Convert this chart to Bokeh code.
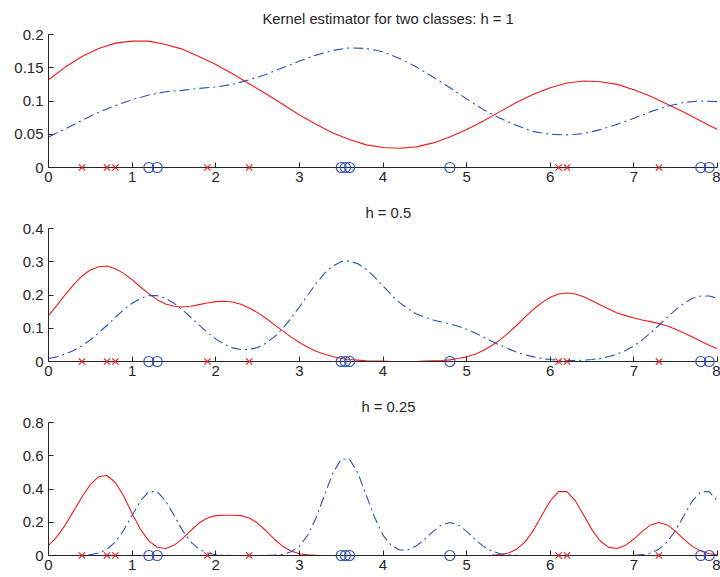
from bokeh.plotting import figure
from bokeh.layouts import column
from bokeh.models import Range1d, FixedTicker
from bokeh.embed import file_html
from bokeh.resources import INLINE

# ---- sample positions of the two classes ----
class1_x = [0.4, 0.7, 0.8, 1.9, 2.4, 6.1, 6.2, 7.3]          # red crosses
class2_x = [1.2, 1.3, 3.5, 3.55, 3.6, 4.8, 7.8, 7.9]         # blue circles

# ---- density estimates ----
x_coarse = [round(i * 0.2, 1) for i in range(41)]            # 0 .. 8 step 0.2
x_fine = [round(i * 0.1, 1) for i in range(81)]              # 0 .. 8 step 0.1

red_h1 = [0.132, 0.151, 0.167, 0.179, 0.187, 0.190, 0.190, 0.185, 0.178, 0.167,
          0.155, 0.141, 0.126, 0.111, 0.095, 0.079, 0.065, 0.052, 0.042, 0.034,
          0.030, 0.029, 0.031, 0.037, 0.046, 0.057, 0.070, 0.084, 0.098, 0.110,
          0.120, 0.127, 0.130, 0.129, 0.125, 0.117, 0.107, 0.095, 0.083, 0.070,
          0.057]
blue_h1 = [0.046, 0.058, 0.071, 0.083, 0.093, 0.102, 0.109, 0.114, 0.116, 0.119,
           0.121, 0.125, 0.132, 0.140, 0.150, 0.160, 0.169, 0.176, 0.180, 0.179,
           0.174, 0.164, 0.151, 0.136, 0.120, 0.103, 0.087, 0.074, 0.063, 0.054,
           0.050, 0.049, 0.051, 0.057, 0.065, 0.074, 0.084, 0.092, 0.098, 0.100,
           0.099]

red_h05 = [0.138, 0.169, 0.201, 0.231, 0.257, 0.275, 0.285, 0.287, 0.279, 0.265,
           0.246, 0.224, 0.204, 0.186, 0.173, 0.166, 0.164, 0.166, 0.171, 0.176,
           0.180, 0.181, 0.179, 0.172, 0.161, 0.147, 0.130, 0.111, 0.092, 0.074,
           0.057, 0.043, 0.031, 0.022, 0.015, 0.009, 0.006, 0.004, 0.002, 0.001,
           0.001, 0.000, 0.000, 0.000, 0.000, 0.001, 0.002, 0.003, 0.005, 0.009,
           0.014, 0.022, 0.033, 0.048, 0.065, 0.086, 0.109, 0.134, 0.157, 0.177,
           0.193, 0.203, 0.206, 0.203, 0.195, 0.183, 0.170, 0.158, 0.146, 0.138,
           0.131, 0.125, 0.120, 0.114, 0.107, 0.097, 0.086, 0.074, 0.061, 0.049,
           0.038]
blue_h05 = [0.009, 0.014, 0.022, 0.033, 0.047, 0.065, 0.086, 0.109, 0.133, 0.156,
            0.175, 0.190, 0.198, 0.198, 0.190, 0.175, 0.156, 0.133, 0.110, 0.087,
            0.068, 0.052, 0.041, 0.036, 0.036, 0.042, 0.055, 0.074, 0.099, 0.130,
            0.164, 0.200, 0.234, 0.265, 0.287, 0.300, 0.302, 0.294, 0.277, 0.254,
            0.227, 0.201, 0.177, 0.158, 0.143, 0.133, 0.125, 0.119, 0.113, 0.106,
            0.097, 0.086, 0.074, 0.061, 0.049, 0.038, 0.028, 0.020, 0.014, 0.009,
            0.006, 0.004, 0.003, 0.003, 0.004, 0.006, 0.009, 0.015, 0.022, 0.033,
            0.047, 0.065, 0.086, 0.109, 0.133, 0.156, 0.175, 0.190, 0.197, 0.197,
            0.190]

red_h025 = [0.061, 0.112, 0.183, 0.267, 0.352, 0.426, 0.474, 0.481, 0.439, 0.356,
            0.253, 0.158, 0.088, 0.050, 0.042, 0.061, 0.100, 0.149, 0.195, 0.226,
            0.240, 0.242, 0.242, 0.240, 0.226, 0.195, 0.149, 0.098, 0.056, 0.027,
            0.011, 0.004, 0.001, 0.000, 0.000, 0.000, 0.000, 0.000, 0.000, 0.000,
            0.000, 0.000, 0.000, 0.000, 0.000, 0.000, 0.000, 0.000, 0.000, 0.000,
            0.000, 0.000, 0.000, 0.001, 0.005, 0.015, 0.038, 0.082, 0.153, 0.242,
            0.329, 0.384, 0.384, 0.329, 0.242, 0.154, 0.086, 0.049, 0.042, 0.061,
            0.099, 0.145, 0.184, 0.199, 0.184, 0.145, 0.097, 0.055, 0.027, 0.011,
            0.004]
blue_h025 = [0.000, 0.000, 0.000, 0.000, 0.001, 0.005, 0.015, 0.038, 0.082, 0.153,
             0.242, 0.329, 0.384, 0.384, 0.329, 0.242, 0.153, 0.082, 0.038, 0.015,
             0.005, 0.001, 0.000, 0.000, 0.000, 0.000, 0.001, 0.002, 0.007, 0.022,
             0.056, 0.122, 0.227, 0.363, 0.496, 0.579, 0.579, 0.496, 0.363, 0.228,
             0.123, 0.060, 0.033, 0.034, 0.058, 0.098, 0.145, 0.184, 0.199, 0.184,
             0.145, 0.097, 0.055, 0.027, 0.011, 0.004, 0.001, 0.000, 0.000, 0.000,
             0.000, 0.000, 0.000, 0.000, 0.000, 0.000, 0.000, 0.000, 0.000, 0.000,
             0.001, 0.005, 0.015, 0.038, 0.082, 0.153, 0.242, 0.329, 0.384, 0.384,
             0.329]

titles = ["Kernel estimator for two classes: h = 1", "h = 0.5", "h = 0.25"]
x_ticks = [0, 1, 2, 3, 4, 5, 6, 7, 8]
y_ticks = [[0, 0.05, 0.1, 0.15, 0.2], [0, 0.1, 0.2, 0.3, 0.4], [0, 0.2, 0.4, 0.6, 0.8]]
y_tick_labels = [["0", "0.05", "0.1", "0.15", "0.2"],
                 ["0", "0.1", "0.2", "0.3", "0.4"],
                 ["0", "0.2", "0.4", "0.6", "0.8"]]
y_max = [0.2, 0.4, 0.8]

panels = [
    (x_coarse, red_h1, x_coarse, blue_h1),
    (x_fine, red_h05, x_fine, blue_h05),
    (x_fine, red_h025, x_fine, blue_h025),
]

RED = "#ee1c1c"
BLUE = "#2d4fb8"
TXT = "#262626"
FONT = "Liberation Sans"

tops = [34, 34, 34]
frames = [133, 133, 133]
bottoms = [27, 27, 22]
title_offsets = [214, 317, 313]

figs = []
for i in range(3):
    xr, yr, xb, yb = panels[i]
    p = figure(width=720, height=tops[i] + frames[i] + bottoms[i],
               output_backend="svg", toolbar_location=None,
               x_range=Range1d(0, 8), y_range=Range1d(0, y_max[i]),
               min_border_left=48, min_border_right=3, min_border_top=tops[i],
               min_border_bottom=bottoms[i])
    p.frame_width = 669
    p.frame_height = frames[i]
    p.title.text = titles[i]
    p.title.align = "left"
    p.title.offset = title_offsets[i]
    p.title.text_font = FONT
    p.title.text_font_size = "14.8px"
    p.title.text_font_style = "normal"
    p.title.text_color = TXT
    p.title.standoff = 15
    p.outline_line_color = None
    p.grid.visible = False
    p.background_fill_color = "white"
    p.border_fill_color = "white"

    p.line(xr, yr, line_color=RED, line_width=1.1)
    p.line(xb, yb, line_color=BLUE, line_width=1.1, line_dash="10 4 2 4")
    p.scatter(class1_x, [0] * len(class1_x), marker="x", size=9, line_color=RED,
              line_width=1.1, level="overlay")
    p.scatter(class2_x, [0] * len(class2_x), marker="circle", size=10, fill_color=None,
              line_color=BLUE, line_width=1.1, level="overlay")

    for ax in (p.xaxis[0], p.yaxis[0]):
        ax.major_tick_in = 5
        ax.major_tick_out = 0
        ax.minor_tick_line_color = None
        ax.axis_line_color = TXT
        ax.major_tick_line_color = TXT
        ax.major_label_text_font = FONT
        ax.major_label_text_font_size = "15px"
        ax.major_label_text_color = TXT
    p.xaxis[0].ticker = FixedTicker(ticks=x_ticks)
    p.xaxis[0].major_label_standoff = 4
    p.yaxis[0].ticker = FixedTicker(ticks=y_ticks[i])
    p.yaxis[0].major_label_overrides = {t: l for t, l in zip(y_ticks[i], y_tick_labels[i])}
    p.yaxis[0].major_label_standoff = 5
    figs.append(p)

layout = column(*figs, spacing=0)
open("out.html", "w").write(file_html(layout, INLINE))
